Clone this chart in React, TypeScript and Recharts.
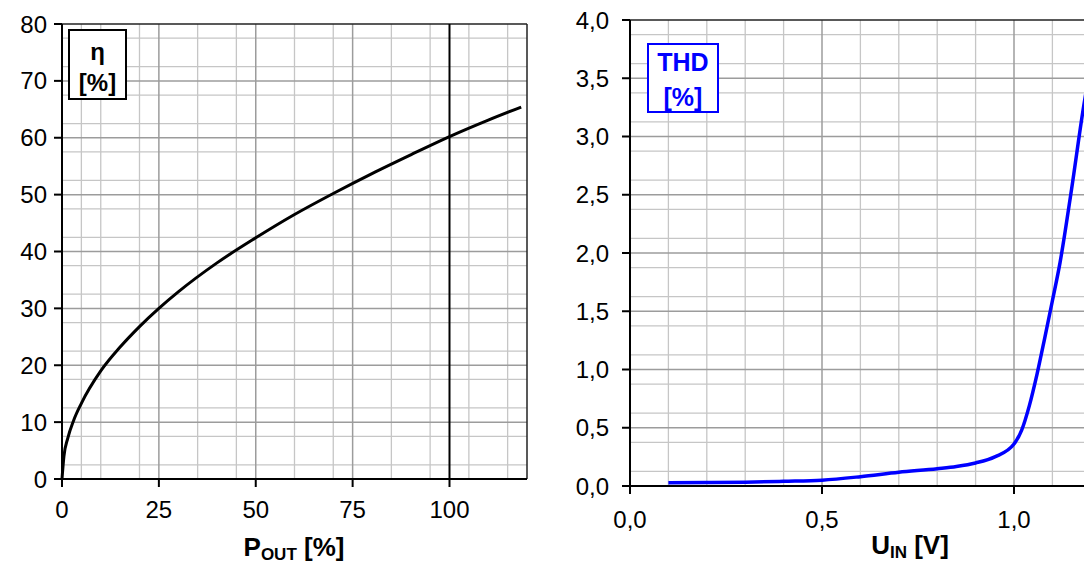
import { CartesianGrid, Line, LineChart, ReferenceLine, XAxis, YAxis } from "recharts"

// efficiency vs output power
const pOut = [0, 0.5, 1.5, 3, 5, 10, 15, 20, 25, 30, 40, 50, 60, 70, 80, 90, 100, 110, 118.5]
const eta = [0, 4, 7.2, 10.3, 13.3, 19, 23.2, 26.8, 30, 32.9, 38, 42.4, 46.5, 50.2, 53.7, 57, 60.2, 63.1, 65.4]
const etaXTicks = [0, 25, 50, 75, 100]
const etaYTicks = [0, 10, 20, 30, 40, 50, 60, 70, 80]

// THD vs input voltage
const uIn = [0.1, 0.2, 0.3, 0.4, 0.5, 0.6, 0.7, 0.8, 0.85, 0.9, 0.95, 1.0, 1.02, 1.04, 1.06, 1.08, 1.1, 1.12, 1.15, 1.18, 1.2]
const thd = [0.028, 0.029, 0.032, 0.04, 0.05, 0.08, 0.118, 0.149, 0.168, 0.198, 0.25, 0.36, 0.48, 0.69, 0.96, 1.27, 1.59, 1.92, 2.55, 3.23, 3.62]
const thdXTicks = [0, 0.5, 1.0]
const thdYTicks = [0, 0.5, 1, 1.5, 2, 2.5, 3, 3.5, 4]

const etaData = pOut.map((p, i) => ({ p, eta: eta[i] }))
const thdData = uIn.map((u, i) => ({ u, thd: thd[i] }))

const range = (from: number, to: number, step: number) => {
  const out: number[] = []
  for (let k = 0; from + k * step <= to + 1e-9; k++) out.push(+(from + k * step).toFixed(4))
  return out
}
const notMultiple = (m: number) => (v: number) => Math.abs(v / m - Math.round(v / m)) > 1e-6

const font = "'Liberation Sans', Arial, sans-serif"
const MINOR = "#c6c6c6"
const MAJOR = "#9c9c9c"
const tickStyle = { fill: "#000", fontSize: 24, fontFamily: font }
const comma = (v: number) => v.toFixed(1).replace(".", ",")

function EtaChart() {
  return (
    <LineChart width={540} height={566} data={etaData} margin={{ top: 24, right: 13, left: 0, bottom: 0 }}>
      <CartesianGrid
        stroke={MINOR}
        strokeWidth={1.3}
        verticalValues={range(5, 115, 5).filter(notMultiple(25))}
        horizontalValues={range(2.5, 77.5, 2.5).filter(notMultiple(10))}
      />
      <CartesianGrid stroke={MAJOR} strokeWidth={1.5} verticalValues={[25, 50, 75]} horizontalValues={range(10, 70, 10)} />
      <XAxis
        dataKey="p"
        type="number"
        domain={[0, 120]}
        ticks={etaXTicks}
        height={87}
        tickSize={8}
        tickMargin={14}
        tick={tickStyle}
        axisLine={{ stroke: "#000", strokeWidth: 2 }}
        tickLine={{ stroke: "#000", strokeWidth: 2 }}
      />
      <YAxis
        dataKey="eta"
        type="number"
        domain={[0, 80]}
        ticks={etaYTicks}
        width={62}
        tickSize={8}
        tickMargin={7}
        tick={tickStyle}
        axisLine={{ stroke: "#000", strokeWidth: 2 }}
        tickLine={{ stroke: "#000", strokeWidth: 2 }}
      />
      <ReferenceLine y={80} stroke="#222" strokeWidth={1.5} />
      <ReferenceLine x={120} stroke="#222" strokeWidth={1.5} />
      <ReferenceLine x={100} stroke="#000" strokeWidth={2} />
      <Line dataKey="eta" type="monotone" stroke="#000" strokeWidth={3} dot={false} isAnimationActive={false} />
    </LineChart>
  )
}

function ThdChart() {
  return (
    <LineChart width={656} height={566} data={thdData} margin={{ top: 20, right: 10, left: 0, bottom: 0 }}>
      <CartesianGrid
        stroke={MINOR}
        strokeWidth={1.3}
        verticalValues={range(0.1, 1.4, 0.1).filter(notMultiple(0.5))}
        horizontalValues={range(0.125, 3.875, 0.125).filter(notMultiple(0.5))}
      />
      <CartesianGrid stroke={MAJOR} strokeWidth={1.5} verticalValues={[0.5, 1.0]} horizontalValues={range(0.5, 3.5, 0.5)} />
      <XAxis
        dataKey="u"
        type="number"
        domain={[0, 1.5]}
        ticks={thdXTicks}
        tickFormatter={comma}
        height={80}
        tickSize={8}
        tickMargin={17}
        tick={tickStyle}
        axisLine={{ stroke: "#000", strokeWidth: 2 }}
        tickLine={{ stroke: "#000", strokeWidth: 2 }}
      />
      <YAxis
        dataKey="thd"
        type="number"
        domain={[0, 4]}
        ticks={thdYTicks}
        tickFormatter={comma}
        width={70}
        tickSize={8}
        tickMargin={13}
        tick={tickStyle}
        axisLine={{ stroke: "#000", strokeWidth: 2 }}
        tickLine={{ stroke: "#000", strokeWidth: 2 }}
      />
      <ReferenceLine y={4} stroke="#222" strokeWidth={1.5} />
      <Line dataKey="thd" type="monotone" stroke="#0000ff" strokeWidth={3.5} dot={false} isAnimationActive={false} />
    </LineChart>
  )
}

const boxText = { position: "absolute" as const, left: 0, right: 0, textAlign: "center" as const, lineHeight: "28px" }

export default function App() {
  return (
    <div
      style={{
        position: "fixed",
        left: 0,
        top: 0,
        width: 1084,
        height: 566,
        overflow: "hidden",
        background: "#fff",
        fontFamily: font,
      }}
    >
      <div style={{ position: "absolute", left: 0, top: 0 }}>
        <EtaChart />
      </div>
      <div style={{ position: "absolute", left: 560, top: 0 }}>
        <ThdChart />
      </div>

      {/* η label box */}
      <div
        style={{
          position: "absolute",
          left: 68,
          top: 29,
          width: 55,
          height: 67,
          border: "2px solid #000",
          background: "#fff",
          fontWeight: "bold",
          fontSize: 24,
          color: "#000",
        }}
      >
        <div style={{ ...boxText, top: 7 }}>η</div>
        <div style={{ ...boxText, top: 38 }}>[%]</div>
      </div>

      {/* THD label box */}
      <div
        style={{
          position: "absolute",
          left: 647,
          top: 43,
          width: 68,
          height: 66,
          border: "2px solid #0000ff",
          background: "#fff",
          fontWeight: "bold",
          fontSize: 25,
          color: "#0000ff",
        }}
      >
        <div style={{ ...boxText, top: 3 }}>THD</div>
        <div style={{ ...boxText, top: 38 }}>[%]</div>
      </div>

      {/* axis titles */}
      <div
        style={{
          position: "absolute",
          left: 194,
          top: 532,
          width: 200,
          textAlign: "center",
          fontWeight: "bold",
          fontSize: 26,
          lineHeight: "30px",
        }}
      >
        P<span style={{ fontSize: 17, position: "relative", top: 4 }}>OUT</span> [%]
      </div>
      <div
        style={{
          position: "absolute",
          left: 810,
          top: 530,
          width: 200,
          textAlign: "center",
          fontWeight: "bold",
          fontSize: 26,
          lineHeight: "30px",
        }}
      >
        U<span style={{ fontSize: 17, position: "relative", top: 4 }}>IN</span> [V]
      </div>
    </div>
  )
}
